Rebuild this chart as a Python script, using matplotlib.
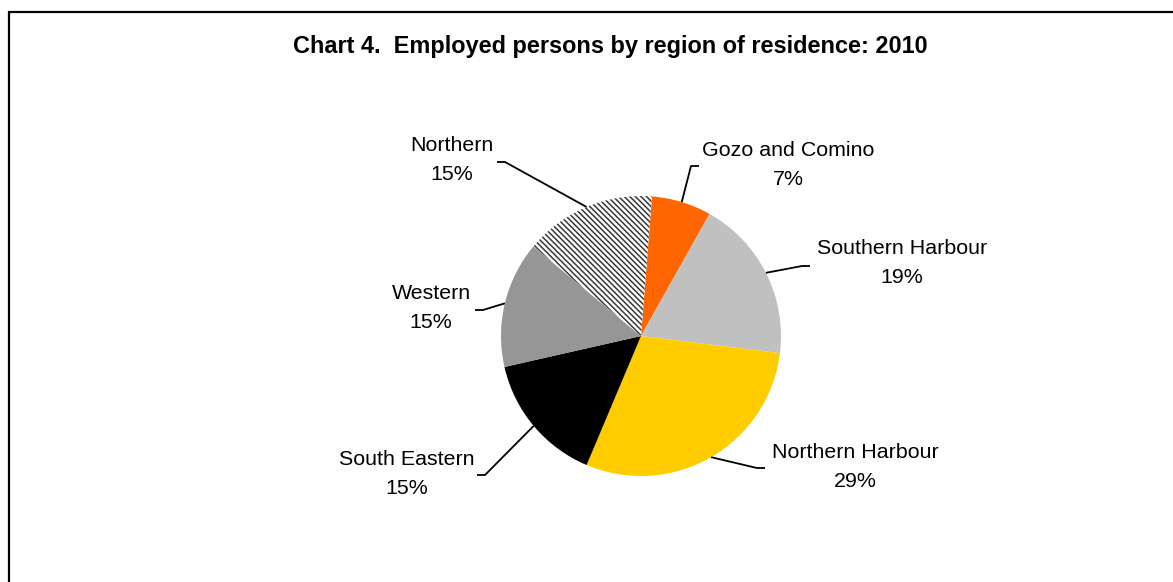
import matplotlib
matplotlib.use('Agg')
import matplotlib.pyplot as plt
import numpy as np

# data
regions = ['Gozo and Comino', 'Southern Harbour', 'Northern Harbour',
           'South Eastern', 'Western', 'Northern']
shares = [6.9, 18.8, 29.4, 15.1, 14.6, 15.2]
colors = ['#FF6600', '#C0C0C0', '#FFCC00', '#000000', '#969696', '#FFFFFF']

# label layout (pixel coords, y measured from the top of the image)
label_xy = [(788, 165), (902, 263), (855, 467), (407, 474), (431, 308), (452, 160)]
stub_end = [(699, 166), (810, 266), (765, 468), (477, 475), (475, 310), (497, 162)]
stub_dir = [1, 1, 1, -1, -1, -1]

W, H = 1173, 582
plt.rcParams['font.family'] = ['Liberation Sans', 'DejaVu Sans']
plt.rcParams['hatch.linewidth'] = 1.1

fig = plt.figure(figsize=(W / 100, H / 100), dpi=100)
ax = fig.add_axes([0, 0, 1, 1])

cx, cy, r = 641, H - 336, 140
wedges, _ = ax.pie(shares, colors=colors, startangle=90 - 4.5, counterclock=False,
                   center=(cx, cy), radius=r,
                   wedgeprops=dict(linewidth=0, edgecolor='none'))
wedges[-1].set_hatch('\\' * 6)
wedges[-1].set_edgecolor('#383838')
wedges[-1].set_linewidth(0)

ax.set_xlim(0, W)
ax.set_ylim(0, H)
ax.set_aspect('equal')
ax.axis('off')

total = sum(shares)
for w, name, val, (tx, ty), (ex, ey), d in zip(wedges, regions, shares, label_xy, stub_end, stub_dir):
    mid = np.deg2rad((w.theta1 + w.theta2) / 2)
    px, py = cx + r * np.cos(mid), cy + r * np.sin(mid)
    elbow = (ex - d * 8, H - ey)
    ax.plot([px, elbow[0], ex], [py, elbow[1], H - ey], color='black', lw=1.3,
            solid_capstyle='butt')
    ax.text(tx, H - ty, '%s\n%d%%' % (name, round(val / total * 100)),
            ha='center', va='center', fontsize=15.4, linespacing=1.62)

ax.text(610, H - 47, 'Chart 4.  Employed persons by region of residence: 2010',
        ha='center', va='center', fontsize=16.9, fontweight='bold')

# chart frame (runs off the right and bottom edges)
ax.plot([9, 9, W + 10], [-10, H - 12, H - 12], color='black', lw=1.6,
        solid_joinstyle='miter')

fig.savefig('out.png', dpi=100)
